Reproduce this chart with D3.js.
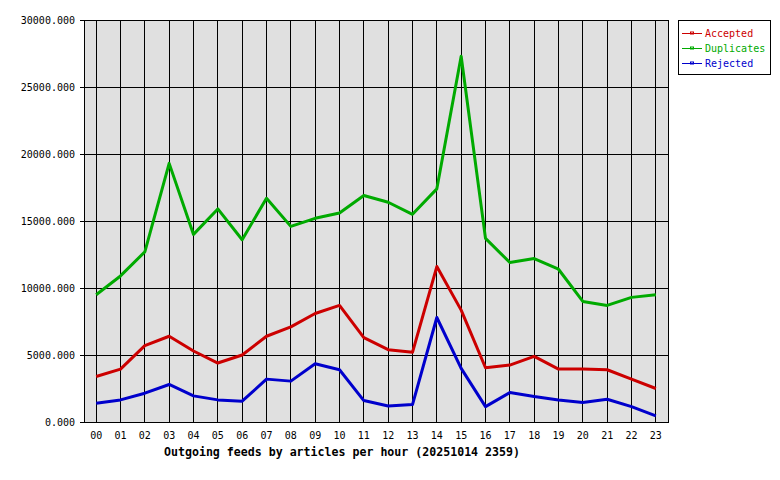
<!DOCTYPE html>
<html>
<head>
<meta charset="utf-8">
<script src="https://cdn.jsdelivr.net/npm/d3@7"></script>
<style>
	body { margin: 0; background: #fff; }
	svg { display: block; }
	.axis-label { font-family: "DejaVu Sans Mono", "Liberation Mono", monospace; font-size: 10px; fill: #000; }
	.title { font-family: "DejaVu Sans Mono", "Liberation Mono", monospace; font-size: 11.6px; font-weight: bold; fill: #000; }
	.grid line { stroke: #000; stroke-width: 1; shape-rendering: crispEdges; }
</style>
</head>
<body>
<div id="chart"></div>
<script>
// Data
var HOURS = ['00', '01', '02', '03', '04', '05', '06', '07', '08', '09', '10', '11',
	'12', '13', '14', '15', '16', '17', '18', '19', '20', '21', '22', '23'];

var ACCEPTED = [3400, 3950, 5700, 6400, 5300, 4400, 5000, 6400, 7100, 8100, 8700, 6300,
	5400, 5200, 11600, 8350, 4050, 4250, 4900, 3950, 3950, 3900, 3200, 2500];

var DUPLICATES = [9500, 10900, 12700, 19300, 14000, 15900, 13600, 16700, 14600, 15200, 15600, 16900,
	16400, 15500, 17400, 27300, 13700, 11900, 12200, 11400, 9000, 8700, 9300, 9500];

var REJECTED = [1400, 1650, 2150, 2800, 1950, 1650, 1550, 3200, 3050, 4350, 3900, 1600,
	1200, 1300, 7800, 4000, 1150, 2200, 1900, 1650, 1450, 1700, 1150, 450];

var Y_TICKS = [0, 5000, 10000, 15000, 20000, 25000, 30000];

var SERIES = [
	{ name: 'Accepted', values: ACCEPTED, color: '#cc0000' },
	{ name: 'Duplicates', values: DUPLICATES, color: '#00aa00' },
	{ name: 'Rejected', values: REJECTED, color: '#0000cc' }
];

var TITLE = 'Outgoing feeds by articles per hour (20251014 2359)';

/*
 * Render the graphic.
 */
var render = function() {
	var width = 780;
	var height = 480;

	var plot = { left: 84, right: 668, top: 20, bottom: 422 };

	var svg = d3.select('#chart')
		.append('svg')
		.attr('width', width)
		.attr('height', height);

	var xScale = d3.scalePoint()
		.domain(HOURS)
		.range([plot.left, plot.right])
		.padding(0.5);

	var yScale = d3.scaleLinear()
		.domain([0, 30000])
		.range([plot.bottom, plot.top]);

	// plot background
	svg.append('rect')
		.attr('x', plot.left)
		.attr('y', plot.top)
		.attr('width', plot.right - plot.left)
		.attr('height', plot.bottom - plot.top)
		.attr('fill', '#e0e0e0');

	/*
	 * Grid lines
	 */
	var grid = svg.append('g').attr('class', 'grid');

	grid.selectAll('.vline')
		.data(HOURS)
		.enter()
		.append('line')
		.attr('x1', function(d) { return xScale(d); })
		.attr('x2', function(d) { return xScale(d); })
		.attr('y1', plot.top)
		.attr('y2', plot.bottom);

	grid.selectAll('.hline')
		.data(Y_TICKS)
		.enter()
		.append('line')
		.attr('x1', plot.left - 4)
		.attr('x2', plot.right)
		.attr('y1', function(d) { return yScale(d); })
		.attr('y2', function(d) { return yScale(d); });

	// frame
	svg.append('rect')
		.attr('x', plot.left)
		.attr('y', plot.top)
		.attr('width', plot.right - plot.left)
		.attr('height', plot.bottom - plot.top)
		.attr('fill', 'none')
		.attr('stroke', '#000')
		.attr('shape-rendering', 'crispEdges');

	/*
	 * Axis labels
	 */
	svg.append('g')
		.selectAll('text')
		.data(Y_TICKS)
		.enter()
		.append('text')
		.attr('class', 'axis-label')
		.attr('x', 75)
		.attr('y', function(d) { return yScale(d) + 4; })
		.attr('text-anchor', 'end')
		.text(function(d) { return d.toFixed(3); });

	svg.append('g')
		.selectAll('text')
		.data(HOURS)
		.enter()
		.append('text')
		.attr('class', 'axis-label')
		.attr('x', function(d) { return xScale(d); })
		.attr('y', 439)
		.attr('text-anchor', 'middle')
		.text(function(d) { return d; });

	svg.append('text')
		.attr('class', 'title')
		.attr('x', 342)
		.attr('y', 456)
		.attr('text-anchor', 'middle')
		.text(TITLE);

	/*
	 * Lines
	 */
	var line = d3.line()
		.x(function(d, i) { return xScale(HOURS[i]); })
		.y(function(d) { return yScale(d); });

	svg.append('g')
		.selectAll('path')
		.data(SERIES)
		.enter()
		.append('path')
		.attr('fill', 'none')
		.attr('stroke', function(d) { return d.color; })
		.attr('stroke-width', 3)
		.attr('stroke-linejoin', 'round')
		.attr('d', function(d) { return line(d.values); });

	/*
	 * Legend
	 */
	var legend = svg.append('g');

	legend.append('rect')
		.attr('x', 678.5)
		.attr('y', 20.5)
		.attr('width', 92)
		.attr('height', 54)
		.attr('fill', '#fff')
		.attr('stroke', '#000');

	var items = legend.selectAll('.item')
		.data(SERIES)
		.enter()
		.append('g')
		.attr('transform', function(d, i) {
			return 'translate(0,' + (33.5 + i * 15) + ')';
		});

	items.append('line')
		.attr('x1', 682)
		.attr('x2', 702)
		.attr('y1', 0)
		.attr('y2', 0)
		.attr('stroke', function(d) { return d.color; })
		.attr('stroke-width', 1);

	items.append('rect')
		.attr('x', 690.5)
		.attr('y', -1.5)
		.attr('width', 3)
		.attr('height', 2)
		.attr('fill', 'none')
		.attr('stroke', function(d) { return d.color; })
		.attr('stroke-width', 1);

	items.append('text')
		.attr('class', 'axis-label')
		.attr('x', 705)
		.attr('y', 3.5)
		.attr('fill', function(d) { return d.color; })
		.style('fill', function(d) { return d.color; })
		.text(function(d) { return d.name; });
};

render();
</script>
</body>
</html>
